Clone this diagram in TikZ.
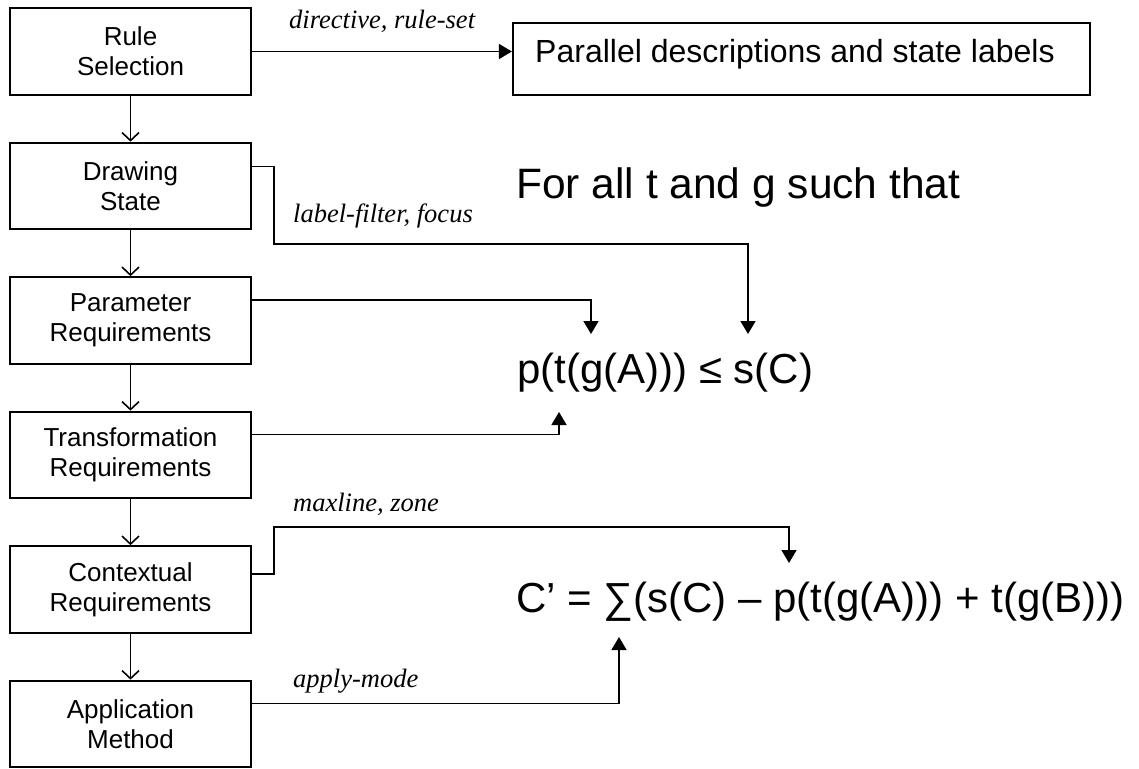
\documentclass[tikz,border=0pt]{standalone}
\usepackage{fontspec}
\setmainfont{Liberation Sans}
\newfontfamily\serifit{Liberation Serif}
\usetikzlibrary{arrows.meta,calc}

\begin{document}
\begin{tikzpicture}[x=1pt,y=1pt,
  stepbox/.style={draw, line width=2.2pt, minimum width=241pt, minimum height=86.5pt,
    align=center, inner sep=0pt, font=\fontsize{26}{30}\selectfont},
  flow/.style={line width=1.6pt, -{Straight Barb[length=8pt,width=17pt,line width=1.6pt]}},
  feed/.style={line width=1.6pt, -{Triangle[length=13pt,width=15pt]}},
  tag/.style={anchor=base west, inner sep=0pt, font=\serifit\itshape\fontsize{26.5}{30}\selectfont},
  formula/.style={anchor=base west, inner sep=0pt, font=\fontsize{42.5}{50}\selectfont}]

\useasboundingbox (0,0) rectangle (1139,-768);

% pipeline of steps
\node[stepbox] (rule)    at (130.5,-51.5) {Rule\\Selection};
\node[stepbox] (drawst)  at (130.5,-186)  {Drawing\\State};
\node[stepbox] (param)   at (130.5,-320.5){Parameter\\Requirements};
\node[stepbox] (trans)   at (130.5,-455)  {Transformation\\Requirements};
\node[stepbox] (context) at (130.5,-589.5){Contextual\\Requirements};
\node[stepbox] (apply)   at (130.5,-724)  {Application\\Method};

\draw[flow] (rule.south)    -- (drawst.north);
\draw[flow] (drawst.south)  -- (param.north);
\draw[flow] (param.south)   -- (trans.north);
\draw[flow] (trans.south)   -- (context.north);
\draw[flow] (context.south) -- (apply.north);

% output box
\node[draw, line width=2.2pt, minimum width=577pt, minimum height=72pt, inner sep=0pt]
  (pbox) at (801.5,-59) {};
\node[anchor=base west, inner sep=0pt, font=\fontsize{32}{38}\selectfont]
  (ptext) at (535,-63) {Parallel descriptions and state labels};

% conditions
\node[formula] (forall) at (516,-198) {For all t and g such that};
\node[formula, font=\fontsize{42}{50}\selectfont] (ineq) at (517,-383) {p(t(g(A))) ≤ s(C)};
\node[formula, font=\fontsize{42}{50}\selectfont] (update) at (516,-612)
  {C’ = ∑(s(C) – p(t(g(A))) + t(g(B)))};

% arrow targets on the formulas
\coordinate (tipA) at (591,-334);
\coordinate (tipB) at (748,-334);
\coordinate (tipC) at (559,-412);
\coordinate (tipD) at (789,-563);
\coordinate (tipE) at (619,-637);
\coordinate (bendB) at (274,-244);
\coordinate (bendD) at (274,-527);

% connectors from the steps
\draw[feed] (rule.east) -- (rule.east -| pbox.west);
\draw[feed] ($(drawst.north east)+(0,-25)$) -| (bendB) -| (tipB);
\draw[feed] ($(param.north east)+(0,-24)$) -| (tipA);
\draw[feed] ($(trans.north east)+(0,-24)$) -| (tipC);
\draw[feed] ($(context.north east)+(0,-29)$) -| (bendD) -| (tipD);
\draw[feed] ($(apply.north east)+(0,-24)$) -| (tipE);

% connector labels
\node[tag] (lblA) at (289,-29)  {directive, rule-set};
\node[tag] (lblB) at (293,-222) {label-filter, focus};
\node[tag] (lblC) at (293,-511) {maxline, zone};
\node[tag] (lblD) at (293,-687) {apply-mode};

\end{tikzpicture}
\end{document}
